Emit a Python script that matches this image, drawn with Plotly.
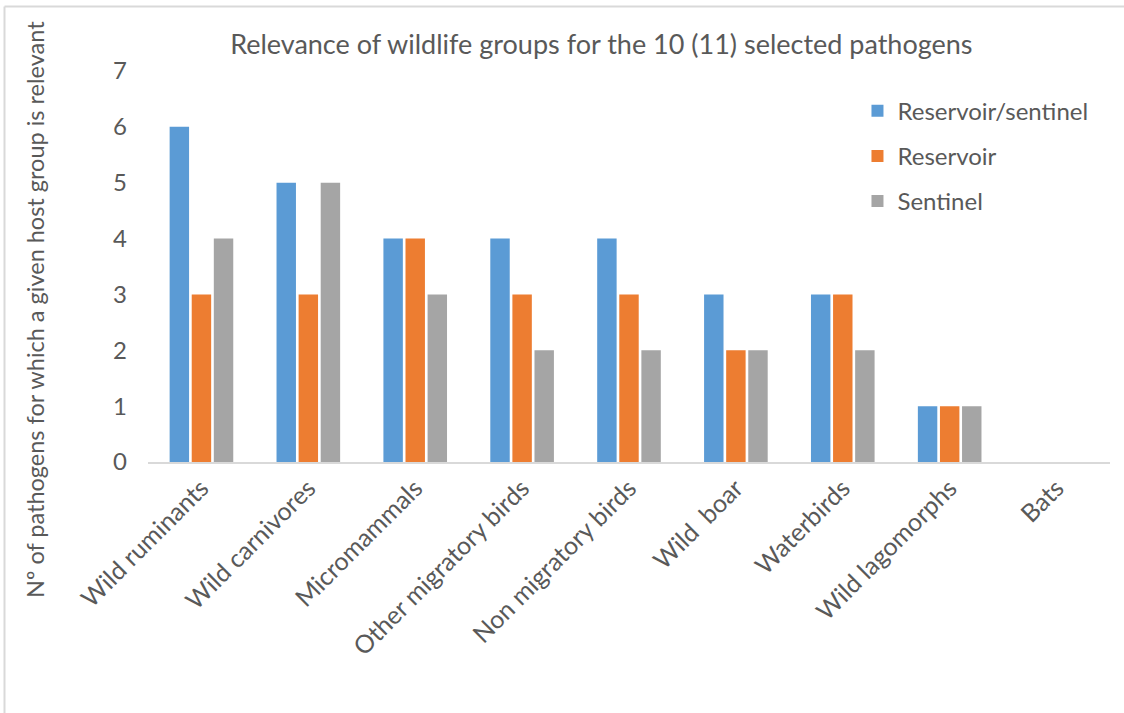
import plotly.graph_objects as go

categories = ["Wild ruminants", "Wild carnivores", "Micromammals", "Other migratory birds",
              "Non migratory birds", "Wild  boar", "Waterbirds", "Wild lagomorphs", "Bats"]
reservoir_sentinel = [6, 5, 4, 4, 4, 3, 3, 1, 0]
reservoir = [3, 3, 4, 3, 3, 2, 3, 1, 0]
sentinel = [4, 5, 3, 2, 2, 2, 2, 1, 0]
series_names = ["Reservoir/sentinel", "Reservoir", "Sentinel"]
colors = ["#5B9BD5", "#ED7D31", "#A5A5A5"]
y_ticks = [0, 1, 2, 3, 4, 5, 6, 7]
y_title = "Nº of pathogens for which a given host group is relevant"

FONT = "Lato"
TXT = "#595959"

fig = go.Figure()
for i, (name, vals) in enumerate(zip(series_names, [reservoir_sentinel, reservoir, sentinel])):
    fig.add_trace(go.Bar(
        x=categories, y=vals, name=name, legendgroup=name,
        marker=dict(color=colors[i], line=dict(width=0)),
    ))

TOP = (462 - 6.5) / 391
LEFT = (4.5 - 148) / 962

fig.update_layout(
    width=1124, height=713,
    margin=dict(l=148, r=14, t=71, b=251),
    paper_bgcolor="white", plot_bgcolor="white",
    barmode="group", bargap=0.38, bargroupgap=0.12,
    font=dict(family=FONT, color=TXT, size=24),
    title=dict(text="Relevance of wildlife groups for the 10 (11) selected pathogens",
               x=0.535, xanchor="center", y=0.937, yanchor="middle",
               font=dict(size=27, color=TXT, family=FONT)),
    legend=dict(x=0.7375, y=0.955, xanchor="left", yanchor="top",
                font=dict(size=24, color=TXT, family=FONT),
                tracegroupgap=11, itemwidth=30, bgcolor="rgba(0,0,0,0)"),
    xaxis=dict(tickangle=-45, showline=True, linecolor="#d9d9d9", linewidth=1.5,
               ticks="", showgrid=False, tickfont=dict(size=25, color=TXT)),
    yaxis=dict(range=[0, 7], tickvals=y_ticks, showgrid=False, zeroline=False,
               showline=False, ticks="", tickfont=dict(size=24, color=TXT),
               ticklabelstandoff=20),
    annotations=[dict(text=y_title, textangle=-90, xref="paper", yref="paper",
                      x=(35 - 148) / 962, y=(462 - 310) / 391,
                      xanchor="center", yanchor="middle", showarrow=False,
                      font=dict(size=23.5, color=TXT, family=FONT))],
    shapes=[
        dict(type="line", xref="paper", yref="paper", layer="above",
             x0=LEFT, x1=(1124 - 148) / 962, y0=TOP, y1=TOP,
             line=dict(color="#d9d9d9", width=2)),
        dict(type="line", xref="paper", yref="paper", layer="above",
             x0=LEFT, x1=LEFT, y0=TOP, y1=(462 - 713) / 391,
             line=dict(color="#d9d9d9", width=2)),
    ],
)

fig.write_html("out.html", post_script="document.body.style.margin='0';",
               config={"displayModeBar": False})
